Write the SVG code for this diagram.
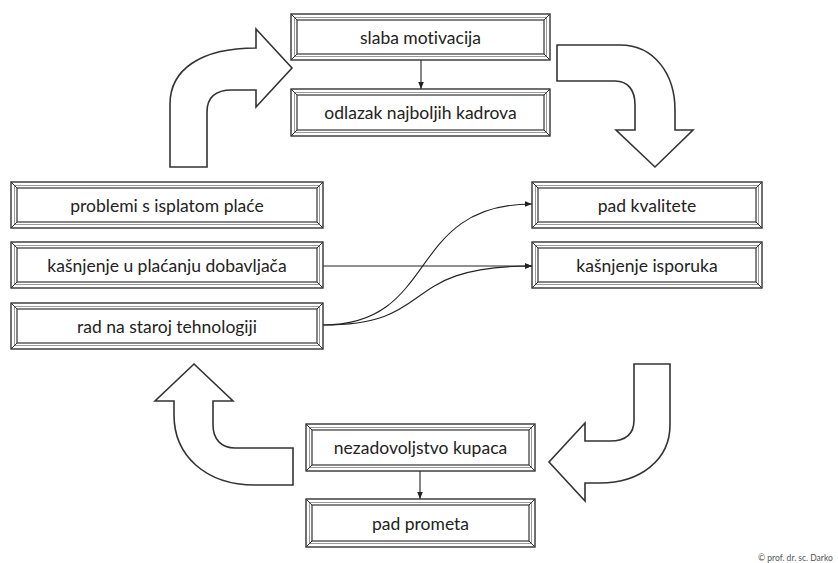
<svg xmlns="http://www.w3.org/2000/svg" width="838" height="563" viewBox="0 0 838 563">
<defs>
<style>
.outer{fill:#fff;stroke:#333;stroke-width:1.4}
.inner{fill:#fff;stroke:#333;stroke-width:1.2}
.bev{fill:none;stroke:#999;stroke-width:1}
.diag{stroke:#333;stroke-width:1}
.lbl{font-family:Lato,"Open Sans","Liberation Sans",sans-serif;font-size:17.5px;fill:#222;text-anchor:middle;dominant-baseline:central;font-variant-ligatures:none}
.big{fill:#fff;stroke:#333;stroke-width:1.6;stroke-linejoin:miter}
.con{fill:none;stroke:#222;stroke-width:1.1}
</style>
<marker id="ah" viewBox="0 0 10 10" refX="10" refY="5" markerWidth="7" markerHeight="7" orient="auto" markerUnits="userSpaceOnUse">
<path d="M0,1 L10,5 L0,9 Z" fill="#222"/>
</marker>
</defs>
<rect width="838" height="563" fill="#fff"/>

<g id="big-arrows">
<path class="big" d="M170,167 L170,104 C170,70 200,48 256,48 L256,29 L292,68 L256,107 L256,90 L232,90 C215,90 207,98 207,112 L207,167 Z"/>
<path class="big" d="M557,45 L620,45 C655,45 675,75 675,110 L675,130 L693,130 L655,167 L616,130 L635,130 L635,105 C635,90 628,81 615,81 L557,81 Z"/>
<path class="big" d="M634,364 L670,364 L670,425 C670,460 640,483 600,483 L585,483 L585,501 L549,462 L585,423 L585,441 L610,441 C625,441 634,435 634,420 Z"/>
<path class="big" d="M194,364 L233,401 L213,401 L213,425 C213,440 222,448 235,448 L293,448 L293,485 L255,485 C205,485 174,455 174,415 L174,401 L155,401 Z"/>
</g>

<g id="connectors">
<path class="con" d="M421,60 L421,89" marker-end="url(#ah)"/>
<path class="con" d="M420,471 L420,499" marker-end="url(#ah)"/>
<path class="con" d="M323,266 L532,266" marker-end="url(#ah)"/>
<path class="con" d="M323,325 C440,325 405,204 532,204" marker-end="url(#ah)"/>
<path class="con" d="M323,325 C440,325 395,266 532,266" marker-end="url(#ah)"/>
</g>

<g id="n-slaba">
<rect class="outer" x="291" y="14" width="259" height="46"/>
<rect class="bev" x="294.5" y="17.5" width="252" height="39"/>
<rect class="inner" x="297" y="20" width="247" height="34"/>
<path class="diag" d="M291,14 L297,20 M550,14 L544,20 M291,60 L297,54 M550,60 L544,54"/>
<text class="lbl" x="420.5" y="37">slaba motivacija</text>
</g>

<g id="n-odlazak">
<rect class="outer" x="291" y="89" width="259" height="47"/>
<rect class="bev" x="294.5" y="92.5" width="252" height="40"/>
<rect class="inner" x="297" y="95" width="247" height="35"/>
<path class="diag" d="M291,89 L297,95 M550,89 L544,95 M291,136 L297,130 M550,136 L544,130"/>
<text class="lbl" x="420.5" y="112.5">odlazak najboljih kadrova</text>
</g>

<g id="n-problemi">
<rect class="outer" x="11" y="182" width="312" height="46"/>
<rect class="bev" x="14.5" y="185.5" width="305" height="39"/>
<rect class="inner" x="17" y="188" width="300" height="34"/>
<path class="diag" d="M11,182 L17,188 M323,182 L317,188 M11,228 L17,222 M323,228 L317,222"/>
<text class="lbl" x="167" y="205">problemi s isplatom plaće</text>
</g>

<g id="n-kasnjenje-placanje">
<rect class="outer" x="11" y="242" width="312" height="46"/>
<rect class="bev" x="14.5" y="245.5" width="305" height="39"/>
<rect class="inner" x="17" y="248" width="300" height="34"/>
<path class="diag" d="M11,242 L17,248 M323,242 L317,248 M11,288 L17,282 M323,288 L317,282"/>
<text class="lbl" x="167" y="265">kašnjenje u plaćanju dobavljača</text>
</g>

<g id="n-rad">
<rect class="outer" x="11" y="303" width="312" height="46"/>
<rect class="bev" x="14.5" y="306.5" width="305" height="39"/>
<rect class="inner" x="17" y="309" width="300" height="34"/>
<path class="diag" d="M11,303 L17,309 M323,303 L317,309 M11,349 L17,343 M323,349 L317,343"/>
<text class="lbl" x="167" y="326">rad na staroj tehnologiji</text>
</g>

<g id="n-pad-kvalitete">
<rect class="outer" x="532" y="182" width="230" height="46"/>
<rect class="bev" x="535.5" y="185.5" width="223" height="39"/>
<rect class="inner" x="538" y="188" width="218" height="34"/>
<path class="diag" d="M532,182 L538,188 M762,182 L756,188 M532,228 L538,222 M762,228 L756,222"/>
<text class="lbl" x="647" y="205">pad kvalitete</text>
</g>

<g id="n-kasnjenje-isporuka">
<rect class="outer" x="532" y="242" width="230" height="46"/>
<rect class="bev" x="535.5" y="245.5" width="223" height="39"/>
<rect class="inner" x="538" y="248" width="218" height="34"/>
<path class="diag" d="M532,242 L538,248 M762,242 L756,248 M532,288 L538,282 M762,288 L756,282"/>
<text class="lbl" x="647" y="265">kašnjenje isporuka</text>
</g>

<g id="n-nezadovoljstvo">
<rect class="outer" x="306" y="424" width="229" height="47"/>
<rect class="bev" x="309.5" y="427.5" width="222" height="40"/>
<rect class="inner" x="312" y="430" width="217" height="35"/>
<path class="diag" d="M306,424 L312,430 M535,424 L529,430 M306,471 L312,465 M535,471 L529,465"/>
<text class="lbl" x="420.5" y="447.5">nezadovoljstvo kupaca</text>
</g>

<g id="n-pad-prometa">
<rect class="outer" x="306" y="499" width="229" height="48"/>
<rect class="bev" x="309.5" y="502.5" width="222" height="41"/>
<rect class="inner" x="312" y="505" width="217" height="36"/>
<path class="diag" d="M306,499 L312,505 M535,499 L529,505 M306,547 L312,541 M535,547 L529,541"/>
<text class="lbl" x="420.5" y="523">pad prometa</text>
</g>

<text x="758" y="561" font-family="Lato,'Liberation Sans',sans-serif" font-size="8.5" fill="#555">© prof. dr. sc. Darko</text>
</svg>
